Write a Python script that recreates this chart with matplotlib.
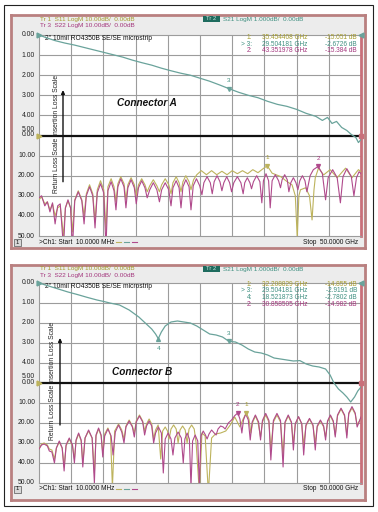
import matplotlib
matplotlib.use('Agg')
import matplotlib.pyplot as plt
from matplotlib.patches import Rectangle
from matplotlib.lines import Line2D
import matplotlib.transforms as mtransforms

plt.rcParams['font.family'] = ['Liberation Sans', 'DejaVu Sans']

# ---------------- data ----------------
# Connector A
A_S21_f = [0, 1, 2.5, 4, 5.5, 7, 8.5, 10, 11.5, 13, 14.5, 16, 17.5, 19, 20.5, 22, 23.5, 25,
           26.5, 28, 29.5, 31, 32.5, 34, 35.5, 37, 38.5, 40, 41.5, 43, 44, 44.8, 45.5, 46.2,
           47, 47.8, 48.5, 49.2, 49.6, 50]
A_S21_db = [0, -0.12, -0.28, -0.4, -0.5, -0.62, -0.74, -0.86, -0.98, -1.1, -1.25, -1.38, -1.5,
            -1.65, -1.78, -1.9, -2.0, -2.15, -2.3, -2.48, -2.67, -2.85, -3.0, -3.12, -3.3, -3.45,
            -3.55, -3.7, -3.9, -4.05, -4.25, -4.1, -4.4, -4.3, -4.6, -4.75, -4.95, -5.1, -5.35, -5.2]

A_S22_f = [0.0, 0.4, 0.9, 1.3, 1.7, 2.1, 2.5, 2.9, 3.3, 3.8,
           4.1, 4.5, 4.9, 5.2, 5.55, 6.1, 6.65, 7.0, 7.35, 7.85, 8.35, 8.7,
           9.05, 9.55, 10.05, 10.4, 10.7, 11.2, 11.65, 11.95, 12.25, 12.7, 13.2, 13.5,
           13.8, 14.3, 14.8, 15.1, 15.45, 15.95, 16.45, 16.8, 17.2, 17.75, 18.3, 18.7,
           19.05, 19.6, 20.15, 20.5, 20.8, 21.3, 21.75, 22.05, 22.35, 22.8, 23.3, 23.6,
           23.95, 24.45, 24.95, 25.3, 25.6, 26.1, 26.6, 26.9, 27.2, 27.65, 28.1, 28.4,
           28.7, 29.15, 29.6, 29.9, 30.25, 30.8, 31.35, 31.7, 31.95, 32.35, 32.75, 33.0,
           33.3, 33.8, 34.3, 34.6, 34.85, 35.25, 35.65, 35.9, 36.2, 36.7, 37.2, 37.5,
           37.75, 38.15, 38.55, 38.8, 39.1, 39.5, 39.9, 40.2, 40.5, 40.9, 41.3, 41.6,
           42.1, 42.6, 43.35, 44.0, 44.5, 44.9, 45.6, 46.3, 46.8, 47.2, 47.8, 48.5, 48.9,
           49.3, 49.7, 50.0]
A_S22_db = [-31, -30, -35, -33, -38, -33.5, -44, -35, -34, -56,
            -36, -32, -36, -56, -32.5, -28, -32.5, -44, -30, -25.5, -30, -46,
            -28.5, -24, -28.5, -56, -27.5, -23, -27.5, -37, -25.5, -21.5, -25.5, -36,
            -26, -22, -26, -34, -26, -22.5, -26, -31, -27, -23.5, -27, -33,
            -27, -23.5, -27, -35, -26, -22.5, -26, -36, -25.5, -22, -25.5, -37,
            -25, -21.5, -25, -29.5, -23.5, -20.5, -23.5, -29, -23, -20, -23, -27.5,
            -23.5, -20.5, -23.5, -28, -23.5, -20.5, -23.5, -29, -23.5, -21, -23.5, -26.5,
            -23, -20, -23, -33.5, -22.5, -19, -22.5, -36, -22.5, -19.5, -22.5, -26,
            -22, -19.5, -22, -28, -23.5, -21, -23.5, -27, -22.5, -20, -22.5, -28,
            -20, -17, -15.38, -19, -32, -21, -17, -21, -33.5, -20.5, -16.5, -20.5, -30,
            -21, -18, -19]

A_S11_f = [0.0, 0.4, 0.9, 1.3, 1.7, 2.1, 2.5, 2.9, 3.3, 3.8,
           4.1, 4.5, 4.9, 5.2, 5.55, 6.1, 6.65, 7.0, 7.35, 7.85, 8.35, 8.7,
           9.05, 9.55, 10.05, 10.4, 10.7, 11.2, 11.65, 11.95, 12.25, 12.7, 13.2, 13.5,
           13.8, 14.3, 14.8, 15.1, 15.45, 15.95, 16.45, 16.8, 17.2, 17.75, 18.3, 18.7,
           19.05, 19.6, 20.15, 20.5, 20.8, 21.3, 21.75, 22.05, 22.35, 22.8, 23.3, 23.6,
           24.0, 24.5, 25.2, 26.0, 26.8, 27.6, 28.4, 29.2, 30.0, 30.8, 31.6, 32.4, 33.2,
           34.0, 34.8, 35.45, 36.2, 37.5, 38.5, 39.3, 39.8, 40.1, 40.35, 40.6, 41.4, 42.0,
           42.4, 42.7, 42.9, 43.4, 44.2, 45.2, 46.3, 47.6, 48.6, 49.6, 50.0]
A_S11_db = [-32, -30.5, -34, -33, -37, -34, -40, -36, -35, -50,
            -36, -32.5, -36, -48, -32, -27.5, -32, -40, -29, -24.5, -29, -43,
            -27, -22.5, -27, -47, -25.5, -21.5, -25.5, -33, -24, -20.5, -24, -32,
            -24.5, -21, -24.5, -30, -24.5, -21.5, -24.5, -28, -25, -22, -25, -28,
            -24.5, -21.5, -24.5, -29, -23.5, -20.5, -23.5, -28, -23, -20, -23, -27,
            -22, -19.5, -17.5, -19.5, -17.5, -19.5, -17.8, -19.5, -17.5, -19, -17.5, -19, -17,
            -18.5, -16.5, -15.05, -18.75, -20.4, -22.9, -24.6, -30, -51, -30, -27, -26, -30,
            -42, -27, -21, -16.25, -19.6, -17, -21, -16.25, -21, -17, -18]

# Connector B
B_S21_f = [0, 1.5, 3, 4.5, 6, 7.5, 9, 10, 11, 12.5, 14, 15.5, 16.5, 17.5, 18.1, 18.52, 19.0,
           19.6, 20.5, 21.5, 22.5, 23.5, 24.5, 25.5, 26.5, 27.5, 28.5, 29.5, 30.5, 31.5, 32.5,
           33.5, 34.5, 35.5, 36.5, 37.5, 38.5, 39.5, 40.5, 41.5, 42.5, 43.5, 44.5, 45.2, 45.8,
           46.5, 47.2, 47.8, 48.4, 49.0, 49.5, 50]
B_S21_db = [0, -0.15, -0.3, -0.45, -0.58, -0.72, -0.85, -0.92, -1.0, -1.1, -1.35, -1.7, -2.0,
            -2.3, -2.55, -2.78, -2.45, -2.15, -1.95, -1.9, -1.95, -2.0, -2.15, -2.35, -2.55,
            -2.6, -2.7, -2.92, -2.95, -3.1, -3.3, -3.45, -3.5, -3.6, -3.75, -3.8, -3.85, -3.9,
            -3.88, -4.05, -4.15, -4.2, -4.3, -4.6, -5.0, -5.3, -5.5, -5.7, -5.95, -5.7, -5.4, -5.2]

B_S22_f = [0.0, 0.4, 0.8, 1.3, 1.6, 2.0, 2.4,
           2.7, 3.15, 3.6, 3.9, 4.2, 4.7, 5.2, 5.5, 5.75, 6.15, 6.55, 6.8,
           7.15, 7.7, 8.25, 8.6, 8.85, 9.25, 9.65, 9.9, 10.2, 10.7, 11.2, 11.5,
           11.85, 12.35, 12.85, 13.2, 13.5, 14.0, 14.5, 14.8, 15.1, 15.6, 16.1, 16.4,
           16.7, 17.1, 17.5, 17.8, 18.1, 18.55, 19.0, 19.3, 19.6, 20.05, 20.5, 20.8,
           21.1, 21.6, 22.1, 22.4, 22.65, 23.0, 23.35, 23.6, 23.85, 24.25, 24.65, 24.9,
           25.15, 25.5, 25.85, 26.1, 26.4, 26.8, 27.2, 27.5, 27.8, 28.2, 28.6, 28.9,
           29.4, 29.9, 30.4, 30.86, 31.2, 31.5, 31.75, 32.1, 32.5, 32.8,
           33.1, 33.6, 34.1, 34.4, 34.7, 35.2, 35.7, 36.0, 36.4, 36.95, 37.5, 37.9,
           38.2, 38.7, 39.2, 39.5, 39.8, 40.3, 40.8, 41.1, 41.45, 42.0, 42.55, 42.9,
           43.2, 43.7, 44.2, 44.5, 44.8, 45.25, 45.7, 46.0, 46.35, 46.9, 47.45, 47.8,
           48.1, 48.6, 49.1, 49.4, 50.0]
B_S22_db = [-33, -31, -30.5, -31.5, -34, -34.5, -40,
            -32.5, -29, -32.5, -44, -31, -27.5, -31, -40, -28.5, -25, -28.5, -42,
            -27.5, -23.5, -27.5, -50, -26, -22.5, -26, -37, -26.5, -23, -26.5, -36,
            -24.5, -21, -24.5, -30, -22, -19, -22, -27, -19.5, -16.5, -19.5, -26,
            -21.5, -19, -21.5, -30, -25, -22, -25, -45, -28, -25, -28, -36,
            -27.5, -24.5, -27.5, -40, -28, -25, -28, -52, -29, -26, -29, -52,
            -26.5, -24, -26, -28, -25.5, -23.5, -25, -26, -23, -21.5, -22, -23,
            -20, -18.5, -16.3, -14.98, -18, -25, -18.5, -15.5, -18.5, -28.5,
            -19.5, -16, -19.5, -28.5, -18.7, -15.2, -18.7, -38.5, -18.7, -15.2, -18.7, -42,
            -19.5, -16, -19.5, -33.5, -20.3, -16.8, -20.3, -36, -21, -17.7, -21, -33.5,
            -21.5, -18.5, -21.5, -28.5, -19, -16, -19, -27, -16, -12.6, -16, -27.5,
            -15, -11.8, -15, -22, -17]

B_S11_f = [0.0, 0.4, 0.8, 1.3, 1.6, 2.0, 2.4,
           2.7, 3.15, 3.6, 3.9, 4.2, 4.7, 5.2, 5.5, 5.75, 6.15, 6.55, 6.8,
           7.15, 7.7, 8.25, 8.6, 8.85, 9.25, 9.65, 9.9, 10.2, 10.7, 11.1, 11.4,
           11.75, 12.35, 12.85, 13.2, 13.5, 14.0, 14.5, 14.8, 15.1, 15.6, 16.1, 16.4,
           16.7, 17.1, 17.5, 17.8, 18.1, 18.5, 18.9, 19.2, 19.6, 19.95, 20.2,
           20.5, 20.9, 21.3, 21.6, 21.9, 22.3, 22.7, 23.0, 23.3, 23.7, 24.1, 24.4,
           24.9, 25.3, 25.8, 26.3, 26.8, 27.4, 28.2, 29.0, 29.7, 30.4, 31.2, 31.7, 32.2,
           32.6, 32.9, 33.2, 33.6, 34.0, 34.4, 34.7, 35.2, 35.7, 36.0, 36.4, 36.95, 37.5,
           37.9, 38.2, 38.7, 39.2, 39.5, 39.8, 40.3, 40.8, 41.1, 41.45, 42.0, 42.55, 42.9,
           43.2, 43.7, 44.2, 44.5, 44.8, 45.25, 45.7, 46.0, 46.35, 46.9, 47.45, 47.8,
           48.1, 48.6, 49.1, 49.4, 50.0]
B_S11_db = [-33, -30.5, -30, -31, -33, -33.5, -38,
            -32.5, -29.5, -32.5, -42, -31.5, -28, -31.5, -38, -29, -25.5, -29, -40,
            -27.5, -24, -27.5, -45, -26.5, -23, -26.5, -35, -25.5, -22.5, -26, -52,
            -24, -20.5, -23.5, -28, -21.5, -18.5, -21.5, -25, -19, -16, -19, -24,
            -20.5, -18, -20.5, -28, -23.5, -21, -38, -24, -22, -24, -28,
            -23, -21, -23, -30, -23.5, -21.5, -23.5, -30, -23, -21, -23, -30,
            -55, -25, -26.5, -55, -27.5, -25.5, -25, -24, -21, -17, -22, -18, -14.86,
            -18, -25, -19.5, -16.5, -19.5, -27, -19.5, -16, -19.5, -33, -19.5, -16, -19.5,
            -36, -20, -16.5, -20, -30, -20.5, -17, -20.5, -31, -21.5, -18, -21.5, -30,
            -22, -19, -22, -27, -19.5, -16.5, -19.5, -26, -16.5, -13, -16.5, -26,
            -15.5, -12.5, -15.5, -21, -17.5]

IL_TICKS = [0, 1, 2, 3, 4, 5]
RL_TICKS = [0, 10, 20, 30, 40, 50]

A_MARKERS = [('1', 'S11', 35.454408, -15.051), ('3', 'S21', 29.504181, -2.6726),
             ('2', 'S22', 43.351978, -15.384)]
B_MARKERS = [('1', 'S11', 32.208829, -14.855), ('3', 'S21', 29.504181, -2.9191),
             ('4', 'S21', 18.521873, -2.7802), ('2', 'S22', 30.858505, -14.982)]

TITLE = '2" 10mil RO4350B SE/SE microstrip'

# ---------------- styling ----------------
W, H = 378, 512
C11 = '#bdb35c'
C22 = '#b04a8c'
C21 = '#6aa39b'
FRAME = '#b98080'
GRIDC = '#9c9c9c'
TXT11 = '#a49b2e'
TXT22 = '#a3357c'
TXT21 = '#3f8f80'
COLORS = {'S11': C11, 'S22': C22, 'S21': C21}
TCOL = {'S11': TXT11, 'S22': TXT22, 'S21': TXT21}

fig = plt.figure(figsize=(W / 100, H / 100), dpi=100)
fig.patch.set_facecolor('white')


def rect(x, y, w, h):
    return [x / W, 1 - (y + h) / H, w / W, h / H]


def ftext(x, y, s, **kw):
    return fig.text(x / W, 1 - y / H, s, **kw)


def fline(x1, x2, y, color, lw=0.8):
    fig.add_artist(Line2D([x1 / W, x2 / W], [1 - y / H, 1 - y / H], color=color, lw=lw,
                          transform=fig.transFigure))


# outer border
fig.add_artist(Rectangle((4 / W, 1 - 506 / H), 369 / W, 501 / H, transform=fig.transFigure,
                         fill=False, edgecolor='#222222', lw=0.8))


def draw_panel(frame, grid, s21, s11, s22, markers, conn, txt_x, arrow_x, arrow_top,
               arrow_bot, conn_pos, lbl_off5, lbl_off0, hdr_y, tr2_y, row_y):
    fx, fy, fw, fh = frame
    gx, gy, gw, gh = grid
    fa = fig.add_axes(rect(*frame))
    fa.set_facecolor('#ececec')
    fa.set_xticks([]); fa.set_yticks([])
    for sp in fa.spines.values():
        sp.set_color(FRAME); sp.set_linewidth(2.0)

    ax = fig.add_axes(rect(*grid))
    ax.set_facecolor('white')
    ax.set_xlim(0, 50)
    ax.set_ylim(-50, 50)
    ax.set_xticks([]); ax.set_yticks([])
    ax2 = ax.twinx()
    ax2.set_ylim(-10, 0)
    ax2.set_yticks([])
    for sp in ax2.spines.values():
        sp.set_visible(False)
    for k in ('left', 'top', 'bottom'):
        ax.spines[k].set_color(GRIDC); ax.spines[k].set_linewidth(0.8)
    ax.spines['right'].set_color('#c9707a'); ax.spines['right'].set_linewidth(2.0)

    for v in range(-40, 50, 10):
        if v != 0:
            ax.axhline(v, color=GRIDC, lw=0.8, zorder=1)
    for f in range(5, 50, 5):
        ax.axvline(f, color=GRIDC, lw=0.8, zorder=1)
    ax.axhline(0, color='#111111', lw=1.6, zorder=2)

    # traces
    ax.plot(s11[0], s11[1], color=C11, lw=0.8, zorder=3, clip_on=True)
    ax.plot(s22[0], s22[1], color=C22, lw=0.8, zorder=4, clip_on=True)
    ax2.plot(s21[0], s21[1], color=C21, lw=0.9, zorder=5, clip_on=True)

    # y labels (two scales)
    bt = mtransforms.blended_transform_factory(ax.transAxes, ax.transData)
    bt2 = mtransforms.blended_transform_factory(ax2.transAxes, ax2.transData)
    for t in IL_TICKS:
        tr = bt2
        if t == 5:
            tr = mtransforms.offset_copy(bt2, fig=fig, y=lbl_off5, units='dots')
        ax2.text(-4 / gw, -t, '%.2f' % t, transform=tr, ha='right', va='center',
                 fontsize=4.9, color='#222222', clip_on=False)
    for t in RL_TICKS:
        tr = bt
        if t == 0:
            tr = mtransforms.offset_copy(bt, fig=fig, y=lbl_off0, units='dots')
        ax.text(-4 / gw, -t, '%.2f' % t, transform=tr, ha='right', va='center',
                fontsize=4.9, color='#222222', clip_on=False)

    # reference triangles
    ax2.plot([0], [0], marker='>', ms=3.5, color=C21, clip_on=False, zorder=6)
    ax2.plot([50], [0], marker='<', ms=3.5, color=C21, clip_on=False, zorder=6)
    ax.plot([0], [0], marker='>', ms=3.5, color=C11, clip_on=False, zorder=6)
    ax.plot([50], [0], marker='s', ms=3.0, color='#c9707a', clip_on=False, zorder=6)

    # markers
    for num, tr_name, f, v in markers:
        a = ax2 if tr_name == 'S21' else ax
        below = (num == '4')
        a.plot([f], [v], marker='^' if below else 'v', ms=2.8, color=COLORS[tr_name],
               zorder=7, lw=0)
        off = -7 if below else 6
        a.annotate(num, (f, v), xytext=(0, off), textcoords='offset points', ha='center',
                   va='center', fontsize=4.6, color=TCOL[tr_name], zorder=7)

    # text inside grid
    ax.text(6 / gw, 1 - 3 / gh, TITLE, transform=ax.transAxes, fontsize=4.8, ha='left',
            va='center', color='#111111')
    ax.text(conn_pos[0], conn_pos[1], conn, transform=ax.transAxes, fontsize=7.2,
            fontweight='bold', fontstyle='italic', ha='left', va='center', color='#111111')
    ax.text(txt_x, 0.51, 'Return Loss Scale Insertion Loss Scale', transform=ax.transAxes,
            rotation=90, fontsize=4.9, ha='center', va='center', color='#222222')
    ax.annotate('', xy=(arrow_x, arrow_top), xytext=(arrow_x, arrow_bot),
                xycoords='axes fraction', textcoords='axes fraction',
                arrowprops=dict(arrowstyle='-|>', color='#111111', lw=1.0, mutation_scale=5,
                                shrinkA=0, shrinkB=0))

    # header
    ftext(fx + 29, hdr_y, 'Tr 1  S11 LogM 10.00dB/  0.00dB', fontsize=4.6, color=TXT11,
          va='center', ha='left')
    ftext(fx + 29, hdr_y + 6.5, 'Tr 3  S22 LogM 10.00dB/  0.00dB', fontsize=4.6,
          color=TXT22, va='center', ha='left')
    fig.add_artist(Rectangle(((fx + 192) / W, 1 - (tr2_y + 3.2) / H), 17 / W, 6.4 / H,
                             transform=fig.transFigure, facecolor='#1e6b5e', edgecolor='none'))
    ftext(fx + 200.5, tr2_y, 'Tr 2', fontsize=4.2, color='#cfe6df', va='center', ha='center')
    ftext(fx + 212, tr2_y, 'S21 LogM 1.000dB/  0.00dB', fontsize=4.6, color=TXT21,
          va='center', ha='left')
    for i, (num, tr_name, f, v) in enumerate(markers):
        yy = row_y + i * 6.5
        c = TCOL[tr_name]
        lab = ('> ' + num + ':') if num == '3' else num + ':'
        ftext(fx + 241, yy, lab, fontsize=4.7, color=c, va='center', ha='right')
        ftext(fx + 251, yy, '%.6f GHz' % f, fontsize=4.7, color=c, va='center', ha='left')
        ftext(fx + 346, yy, ('%.4f dB' % v) if abs(v) < 10 else ('%.3f dB' % v),
              fontsize=4.7, color=c, va='center', ha='right')

    # bottom bar
    by = gy + gh + 6
    fig.add_artist(Rectangle(((fx + 3) / W, 1 - (by + 3.5) / H), 7 / W, 7 / H,
                             transform=fig.transFigure, facecolor='#d8d8d8',
                             edgecolor='#555555', lw=0.5))
    ftext(fx + 6.5, by, '1', fontsize=4.2, color='#111111', va='center', ha='center')
    ftext(gx, by, '>Ch1: Start  10.0000 MHz', fontsize=4.7, color='#111111', va='center',
          ha='left')
    fline(gx + 77, gx + 82, by, C11)
    fline(gx + 85, gx + 90, by, C21)
    fline(gx + 93, gx + 98, by, C22)
    ftext(gx + gw - 3, by, 'Stop  50.0000 GHz', fontsize=4.7, color='#111111', va='center',
          ha='right')


draw_panel((11, 15, 354, 233), (39, 35, 322, 201), (A_S21_f, A_S21_db),
           (A_S11_f, A_S11_db), (A_S22_f, A_S22_db),
           [A_MARKERS[0], A_MARKERS[1], A_MARKERS[2]], 'Connector A',
           txt_x=18 / 322, arrow_x=24 / 322, arrow_top=0.726, arrow_bot=0.27,
           conn_pos=(0.242, 0.66), lbl_off5=6, lbl_off0=1, hdr_y=19.5, tr2_y=19,
           row_y=37.5)
draw_panel((11, 265, 354, 235), (39, 283, 322, 200), (B_S21_f, B_S21_db),
           (B_S11_f, B_S11_db), (B_S22_f, B_S22_db),
           [B_MARKERS[0], B_MARKERS[1], B_MARKERS[2], B_MARKERS[3]], 'Connector B',
           txt_x=13 / 322, arrow_x=21 / 322, arrow_top=0.725, arrow_bot=0.29,
           conn_pos=(0.227, 0.555), lbl_off5=6, lbl_off0=0, hdr_y=268.5, tr2_y=269,
           row_y=284.5)

fig.savefig('out.png', dpi=100, facecolor='white')
